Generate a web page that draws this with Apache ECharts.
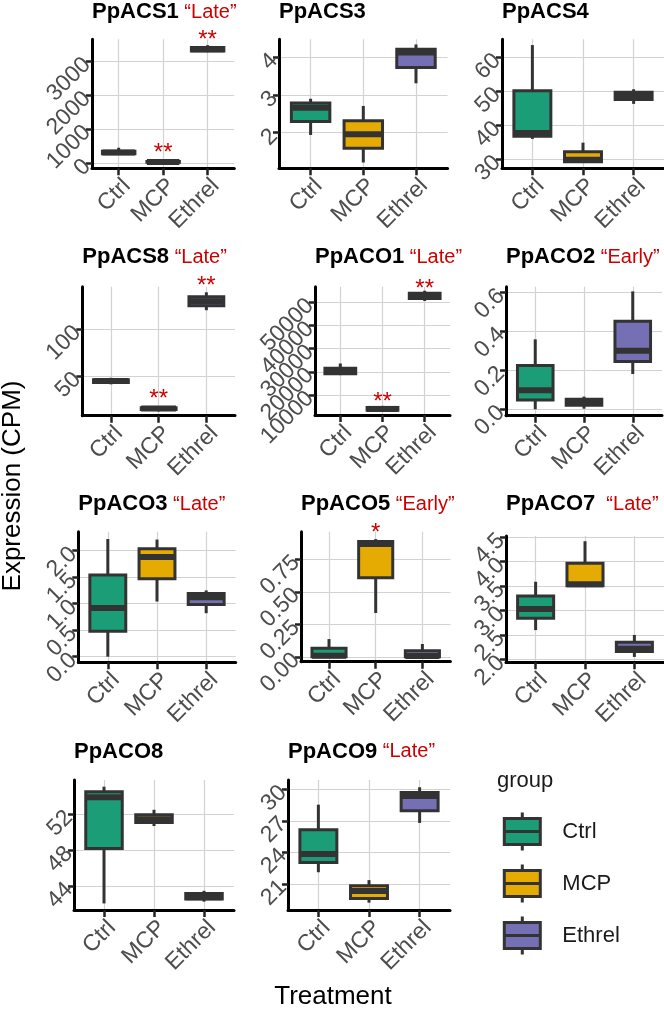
<!DOCTYPE html>
<html><head><meta charset="utf-8">
<script src="https://cdn.jsdelivr.net/npm/echarts@6/dist/echarts.min.js"></script>
<style>html,body{margin:0;padding:0;background:#fff}#c{width:664px;height:1015px}</style>
</head><body><div id="c"></div>
<script>
// ---------- data ----------
const categories = ['Ctrl', 'MCP', 'Ethrel'];
const genes = ['PpACS1','PpACS3','PpACS4','PpACS8','PpACO1','PpACO2','PpACO3','PpACO5','PpACO7','PpACO8','PpACO9'];
const tags  = ['“Late”','','','“Late”','“Late”','“Early”','“Late”','“Early”','“Late”','','“Late”'];

// [min, q1, median, q3, max] per gene
const ctrlStats = [
  [255, 270, 309, 347, 450],
  [1.94, 2.30, 2.66, 2.79, 2.90],
  [36.0, 36.8, 37.7, 50.2, 63.6],
  [41, 43, 44.5, 46, 48],
  [18600, 19200, 20300, 21500, 23600],
  [0.0, 0.047, 0.097, 0.224, 0.359],
  [0.0, 0.48, 0.92, 1.54, 2.22],
  [0.0, 0.0, 0.008, 0.065, 0.136],
  [2.60, 2.84, 3.03, 3.30, 3.59],
  [42.1, 48.2, 53.9, 54.5, 55.07],
  [22.1, 23.03, 23.84, 26.14, 28.54]
];
const mcpStats = [
  [17, 20, 30, 45, 90],
  [1.21, 1.59, 1.96, 2.32, 2.71],
  [29.1, 29.3, 29.9, 32.2, 34.9],
  [12, 14, 15, 16, 17.5],
  [2800, 3400, 4000, 4600, 5300],
  [0.003, 0.021, 0.04, 0.051, 0.065],
  [1.04, 1.47, 1.88, 2.035, 2.21],
  [0.337, 0.608, 0.867, 0.886, 0.905],
  [3.48, 3.51, 3.54, 3.97, 4.42],
  [50.7, 51.1, 51.45, 51.95, 52.5],
  [19.2, 19.6, 20.3, 20.8, 21.35]
];
const ethrelStats = [
  [3270, 3300, 3350, 3406, 3474],
  [3.31, 3.73, 4.13, 4.21, 4.34],
  [46.3, 47.6, 48.6, 49.7, 50.6],
  [120.4, 125.2, 130, 134.8, 139.6],
  [50560, 51600, 52800, 53900, 55000],
  [0.181, 0.245, 0.30, 0.452, 0.605],
  [0.82, 0.985, 1.12, 1.19, 1.25],
  [0.0, 0.0, 0.005, 0.047, 0.098],
  [2.05, 2.16, 2.22, 2.35, 2.50],
  [42.3, 42.6, 42.8, 43.2, 43.5],
  [26.8, 27.95, 29.37, 29.69, 30.2]
];
const yRanges = [
  [-156, 3647], [1.056, 4.477], [27.35, 65.3], [7.4, 145.6], [1379, 56724],
  [-0.033, 0.629], [-0.106, 2.358], [-0.038, 0.962], [1.94, 4.527], [41.37, 55.81], [18.5, 30.89]
];
const yTicks = [
  [0, 1000, 2000, 3000], [2, 3, 4], [30, 40, 50, 60], [50, 100],
  [10000, 20000, 30000, 40000, 50000], [0, 0.2, 0.4, 0.6], [0, 0.5, 1, 1.5, 2],
  [0, 0.25, 0.5, 0.75], [2, 2.5, 3, 3.5, 4, 4.5], [44, 48, 52], [21, 24, 27, 30]
];
const yTickLabels = [
  ['0','1000','2000','3000'], ['2','3','4'], ['30','40','50','60'], ['50','100'],
  ['10000','20000','30000','40000','50000'], ['0.0','0.2','0.4','0.6'], ['0.0','0.5','1.0','1.5','2.0'],
  ['0.00','0.25','0.50','0.75'], ['2.0','2.5','3.0','3.5','4.0','4.5'], ['44','48','52'], ['21','24','27','30']
];
// significance marks: [gene index, group index, text, y value]
const stars = [
  [0, 2, '**', 3697], [0, 1, '**', 382],
  [3, 2, '**', 149.3], [3, 1, '**', 27.8],
  [4, 2, '**', 56983], [4, 1, '**', 8276],
  [7, 1, '*', 0.975]
];

// ---------- layout / style ----------
const FONT = 'Liberation Sans, Arial, Helvetica, sans-serif';
const TICK_FONT = 23;
const groupColors = ['#1B9E77', '#E6AB02', '#7570B3'];
const panels = [
  {left: 92,   top: 39.3,  width: 142.3, height: 129,   titleY: 12,    gap: ' '},
  {left: 279,  top: 39.3,  width: 168.6, height: 129,   titleY: 12,    gap: ' '},
  {left: 502,  top: 39.3,  width: 162,   height: 129,   titleY: 12,    gap: ' '},
  {left: 82.3, top: 286.7, width: 152.7, height: 129,   titleY: 257.3, gap: ' '},
  {left: 315,  top: 286.7, width: 135,   height: 128.3, titleY: 257.3, gap: ' '},
  {left: 506,  top: 286.7, width: 156,   height: 129,   titleY: 257.3, gap: ' '},
  {left: 78.3, top: 531.7, width: 157.4, height: 130.6, titleY: 504.3, gap: ' '},
  {left: 301,  top: 531.7, width: 149.4, height: 130,   titleY: 504.3, gap: ' '},
  {left: 506,  top: 536,   width: 158.4, height: 126.3, titleY: 504.3, gap: '  '},
  {left: 74,   top: 780,   width: 160,   height: 130,   titleY: 751.7, gap: ' '},
  {left: 288,  top: 780,   width: 162,   height: 130,   titleY: 751.7, gap: ' '}
];
const BOX_WIDTH = 0.73;
const statsByGroup = [ctrlStats, mcpStats, ethrelStats];

function renderBox(params, api) {
  const x = api.value(0);
  const lo = api.coord([x, api.value(1)]);
  const q1 = api.coord([x, api.value(2)]);
  const md = api.coord([x, api.value(3)]);
  const q3 = api.coord([x, api.value(4)]);
  const hi = api.coord([x, api.value(5)]);
  const w = api.size([BOX_WIDTH, 0])[0];
  const color = api.visual('color');
  return {
    type: 'group',
    children: [
      {type: 'line', shape: {x1: lo[0], y1: lo[1], x2: hi[0], y2: hi[1]}, style: {stroke: '#333333', lineWidth: 3}},
      {type: 'rect', shape: {x: q3[0] - w / 2, y: q3[1], width: w, height: q1[1] - q3[1]},
       style: {fill: color, stroke: '#333333', lineWidth: 3}},
      {type: 'line', shape: {x1: md[0] - w / 2, y1: md[1], x2: md[0] + w / 2, y2: md[1]},
       style: {stroke: '#333333', lineWidth: 6}}
    ]
  };
}

const grid = [], xAxis = [], yAxis = [], title = [], series = [];
panels.forEach((p, i) => {
  grid.push({left: p.left, top: p.top, width: p.width, height: p.height, containLabel: false});
  xAxis.push({
    gridIndex: i, type: 'value', min: 0.4, max: 3.6,
    axisLine: {show: true, onZero: false, lineStyle: {color: '#000', width: 3}},
    axisTick: {show: true, customValues: [1, 2, 3], length: 7, lineStyle: {color: '#222', width: 2.5}},
    axisLabel: {customValues: [1, 2, 3], formatter: v => categories[Math.round(v) - 1],
      rotate: 45, color: '#4D4D4D', fontSize: TICK_FONT, fontFamily: FONT, margin: 6,
      verticalAlign: 'top', interval: 0,
      hideOverlap: false, showMinLabel: true, showMaxLabel: true},
    splitLine: {show: true, lineStyle: {color: '#d2d2d2', width: 1.2}}
  });
  const ticks = yTicks[i], labs = yTickLabels[i];
  const span = yRanges[i][1] - yRanges[i][0];
  const fmt = v => {
    const k = ticks.findIndex(t => Math.abs(t - v) < span * 1e-6);
    return k >= 0 ? labs[k] : '';
  };
  const labelBase = {rotate: 45, color: '#4D4D4D', fontSize: TICK_FONT, fontFamily: FONT, margin: 5,
    interval: 0, hideOverlap: false, showMinLabel: true, showMaxLabel: true, formatter: fmt};
  // primary y axis: line, ticks, grid lines and every other tick label
  yAxis.push({
    gridIndex: i, type: 'value', position: 'left', offset: 0, min: yRanges[i][0], max: yRanges[i][1],
    axisLine: {show: true, onZero: false, lineStyle: {color: '#000', width: 3}},
    axisTick: {show: true, customValues: ticks, length: 6, lineStyle: {color: '#222', width: 2.5}},
    axisLabel: Object.assign({customValues: ticks.filter((t, k) => k % 2 === 0)}, labelBase),
    splitLine: {show: true, lineStyle: {color: '#d2d2d2', width: 1.2}}
  });
  // twin y axis on the same side carrying the remaining tick labels
  yAxis.push({
    gridIndex: i, type: 'value', position: 'left', offset: 0, min: yRanges[i][0], max: yRanges[i][1],
    axisLine: {show: false, onZero: false},
    axisTick: {show: false, customValues: ticks.filter((t, k) => k % 2 === 1)},
    axisLabel: Object.assign({customValues: ticks.filter((t, k) => k % 2 === 1)}, labelBase),
    splitLine: {show: false}
  });
  title.push({
    text: tags[i] ? '{g|' + genes[i] + '}' + p.gap + '{r|' + tags[i] + '}' : '{g|' + genes[i] + '}',
    left: p.left, top: p.titleY - 13, padding: 0,
    textStyle: {fontSize: 20, fontWeight: 'normal', fontFamily: FONT, lineHeight: 26,
      rich: {
        g: {fontSize: 22, fontWeight: 'bold', color: '#000', fontFamily: FONT, lineHeight: 26},
        r: {fontSize: 20, fontWeight: 'normal', color: '#CC0000', fontFamily: FONT, lineHeight: 26}
      }}
  });
  categories.forEach((c, g) => {
    series.push({
      type: 'custom', name: c, xAxisIndex: i, yAxisIndex: 2 * i,
      itemStyle: {color: groupColors[g]},
      encode: {x: 0, y: [1, 2, 3, 4, 5]},
      data: [[g + 1].concat(statsByGroup[g][i])],
      renderItem: renderBox, silent: true, z: 3
    });
  });
  const sMarks = stars.filter(s => s[0] === i);
  if (sMarks.length) {
    series.push({
      type: 'custom', name: 'sig-' + i, xAxisIndex: i, yAxisIndex: 2 * i,
      encode: {x: 0, y: 1},
      data: sMarks.map(s => [s[1] + 1, s[3]]),
      clip: false, silent: true, z: 5,
      renderItem: (params, api) => {
        const pt = api.coord([api.value(0), api.value(1)]);
        return {type: 'text', x: pt[0], y: pt[1] + 3,
          style: {text: sMarks[params.dataIndex][2], fill: '#CC0000', fontSize: 24,
            fontFamily: FONT, align: 'center', verticalAlign: 'middle'}};
      }
    });
  }
});

const chart = echarts.init(document.getElementById('c'), null, {renderer: 'canvas'});
chart.setOption({
  backgroundColor: '#ffffff',
  animation: false,
  textStyle: {fontFamily: FONT},
  grid, xAxis, yAxis, title, series,
  legend: {
    data: categories, orient: 'vertical', left: 502.8, top: 811, padding: 0,
    itemWidth: 36, itemHeight: 38, itemGap: 11, selectedMode: false,
    icon: 'path://M0,6L36,6L36,32L0,32Z M0,19L36,19 M18,0L18,6 M18,32L18,38',
    itemStyle: {borderColor: '#333333', borderWidth: 3},
    textStyle: {fontSize: 22, color: '#1a1a1a', fontFamily: FONT, padding: [0, 0, 0, 17]}
  },
  graphic: [
    {type: 'text', x: 497, y: 781, style: {text: 'group', fontSize: 22, fill: '#1a1a1a', fontFamily: FONT,
      align: 'left', verticalAlign: 'middle'}},
    {type: 'text', x: 333, y: 997, style: {text: 'Treatment', fontSize: 26, fill: '#000', fontFamily: FONT,
      align: 'center', verticalAlign: 'middle'}},
    {type: 'text', x: 13, y: 486, rotation: Math.PI / 2, style: {text: 'Expression (CPM)', fontSize: 26,
      fill: '#000', fontFamily: FONT, align: 'center', verticalAlign: 'middle'}}
  ]
});
</script>
</body></html>
